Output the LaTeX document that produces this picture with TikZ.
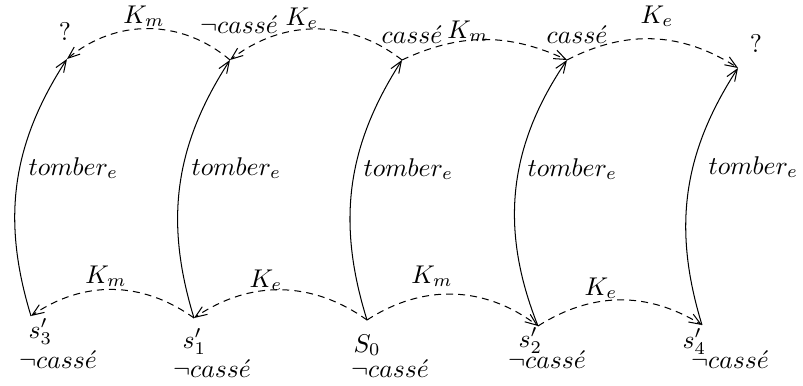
\documentclass[tikz,border=0pt]{standalone}
\usetikzlibrary{arrows.meta}
\begin{document}
\begin{tikzpicture}[x=0.39pt,y=0.39pt,
  tip/.style={-{Straight Barb[length=4.6pt,width=3.6pt]}},
  fall/.style={tip, line width=0.4pt},
  know/.style={tip, line width=0.4pt, dash pattern=on 2.7pt off 2pt},
  lbl/.style={inner sep=0pt, anchor=base},
  lblw/.style={inner sep=0pt, anchor=base west}
]
\useasboundingbox (0,0) rectangle (803,-385);
% state points
\coordinate (t1) at (67,-59);
\coordinate (t2) at (230,-60);
\coordinate (t3) at (402,-60);
\coordinate (t4) at (567,-60);
\coordinate (t5) at (738,-68);
\coordinate (b3) at (31,-316);
\coordinate (b1) at (194,-318);
\coordinate (b0) at (367,-320);
\coordinate (b2) at (538,-326);
\coordinate (b4) at (702,-325);

% top labels
\node[lbl] (q1) at (65,-40) {?};
\node[lbl] (nc) at (239,-33) {$\neg cass\acute{e}$};
\node[lbl] (c1) at (412,-43) {$cass\acute{e}$};
\node[lbl] (c2) at (577,-43) {$cass\acute{e}$};
\node[lbl] (q2) at (756,-52) {?};

% bottom labels
\node[lblw] (s3) at (28,-338) {$s'_3$};
\node[lbl] (n3) at (58,-368) {$\neg cass\acute{e}$};
\node[lblw] (s1) at (182,-348) {$s'_1$};
\node[lbl] (n1) at (212,-377) {$\neg cass\acute{e}$};
\node[lblw] (s0) at (353,-352) {$S_0$};
\node[lbl] (n0) at (390,-377) {$\neg cass\acute{e}$};
\node[lblw] (s2) at (518,-347) {$s'_2$};
\node[lbl] (n2) at (547,-368) {$\neg cass\acute{e}$};
\node[lblw] (s4) at (682,-348) {$s'_4$};
\node[lbl] (n4) at (730,-368) {$\neg cass\acute{e}$};

% tomber arrows
\draw[fall] (b3) to[bend left=25] (t1);
\draw[fall] (b1) to[bend left=25] (t2);
\draw[fall] (b0) to[bend left=25] (t3);
\draw[fall] (b2) to[bend left=28] (t4);
\draw[fall] (b4) to[bend left=25] (t5);
\node[lblw] (f1) at (28,-175) {$tomber_e$};
\node[lblw] (f2) at (191,-175) {$tomber_e$};
\node[lblw] (f3) at (363,-176) {$tomber_e$};
\node[lblw] (f4) at (527,-176) {$tomber_e$};
\node[lblw] (f5) at (708,-174) {$tomber_e$};

% top knowledge arcs
\draw[know] (t2) to[bend right=40] (t1);
\draw[know] (t3) to[bend right=38] (t2);
\draw[know] (t3) to[bend left=25] (t4);
\draw[know] (t4) to[bend left=30] (t5);
\node[lbl] (k1) at (144,-23) {$K_m$};
\node[lbl] (k2) at (302,-25) {$K_e$};
\node[lbl] (k3) at (468,-38) {$K_m$};
\node[lbl] (k4) at (657,-23) {$K_e$};

% bottom knowledge arcs
\draw[know] (b1) to[bend right=35] (b3);
\draw[know] (b0) to[bend right=35] (b1);
\draw[know] (b0) to[bend left=35] (b2);
\draw[know] (b2) to[bend left=32] (b4);
\node[lbl] (k5) at (106,-283) {$K_m$};
\node[lbl] (k6) at (266,-287) {$K_e$};
\node[lbl] (k7) at (432,-283) {$K_m$};
\node[lbl] (k8) at (601,-295) {$K_e$};
\end{tikzpicture}
\end{document}
